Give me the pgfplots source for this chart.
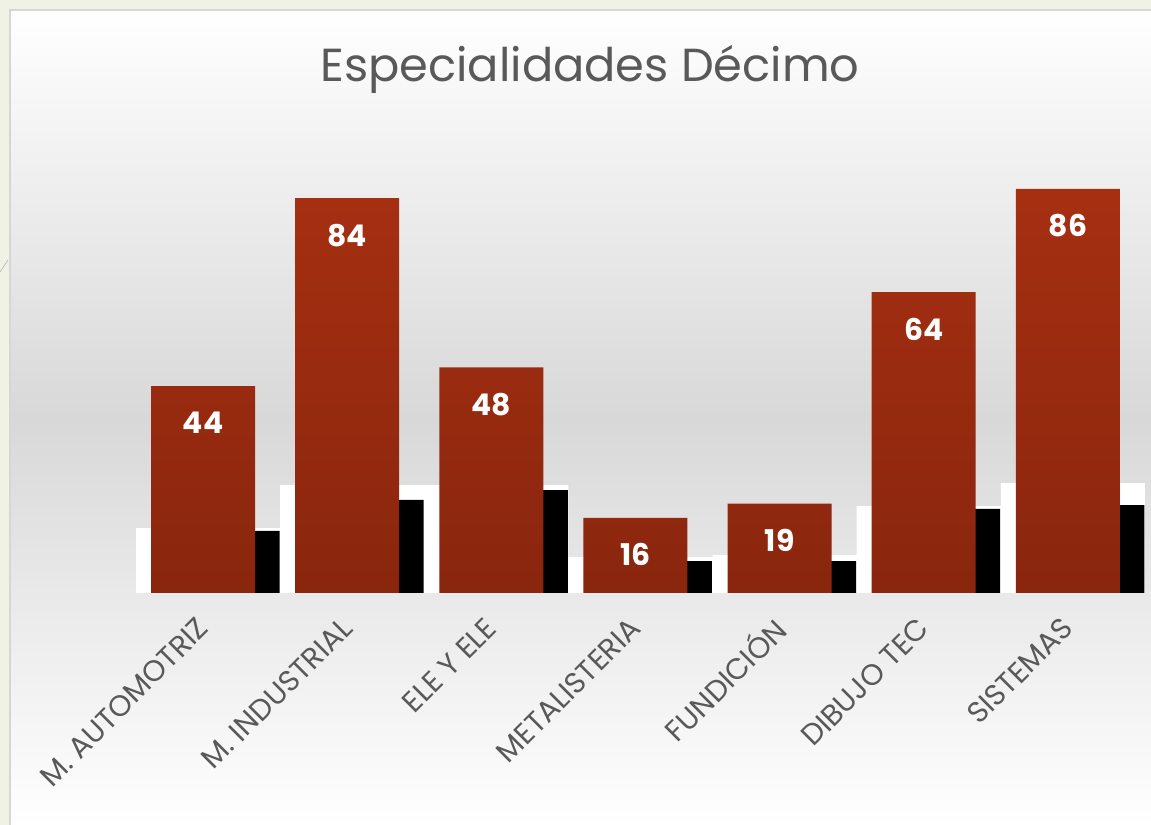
\documentclass[border=0pt]{standalone}
\usepackage{pgfplots}
\pgfplotsset{compat=1.18}
\usepackage{fontspec}
\setmainfont{Poppins}
\definecolor{outerbg}{RGB}{239,242,229}
\definecolor{panelborder}{RGB}{214,214,214}
\definecolor{midgray}{RGB}{216,216,216}
\definecolor{bartop}{RGB}{166,47,17}
\definecolor{barbot}{RGB}{137,38,14}
\definecolor{labgray}{RGB}{89,89,89}
\begin{document}
\begin{tikzpicture}[x=1bp,y=1bp]
\useasboundingbox (0,0) rectangle (1151,825);
\fill[outerbg] (0,0) rectangle (1151,825);
\shade[top color=white, bottom color=white, middle color=midgray] (10,0) rectangle (1151,815);
\draw[panelborder, line width=1.5bp] (10,-2) -- (10,815) -- (1153,815);
\draw[gray!60, line width=0.6bp] (0,553) -- (8,565);
\node[anchor=base, text=labgray, font=\fontsize{46.5}{46.5}\selectfont] at (590,743) {Especialidades Décimo};
\begin{axis}[
  at={(131bp,232bp)}, anchor=south west,
  scale only axis, width=1009bp, height=470bp,
  xmin=-0.5, xmax=6.5, ymin=0, ymax=100,
  axis line style={draw=none},
  ytick=\empty,
  xtick={0,1,2,3,4,5,6},
  major tick length=0pt,
  xticklabels={M. AUTOMOTRIZ, M. INDUSTRIAL, ELE Y ELE, METALISTERIA, FUNDICIÓN, DIBUJO TEC, SISTEMAS},
  xticklabel style={yshift=-30bp, rotate=45, anchor=east, text=labgray, font=\fontsize{29.5}{29.5}\selectfont, inner sep=0bp},
  clip=false,
]
% rendering artefacts of the original (white and black shadow blocks)
\addplot[ybar, bar width=144bp, bar shift=5bp, fill=white, draw=none]
  coordinates {(0,13.8) (1,23.0) (2,23.0) (3,7.7) (4,8.1) (5,18.5) (6,23.4)};
\addplot[ybar, bar width=25bp, bar shift=64bp, fill=black, draw=none]
  coordinates {(0,13.2) (1,19.8) (2,21.9) (3,6.8) (4,6.8) (5,17.9) (6,18.7)};
% main data
\addplot[ybar, bar width=104bp, bar shift=0bp, draw=none, top color=bartop, bottom color=barbot,
  nodes near coords={\pgfmathprintnumber[assume math mode=true]{\pgfplotspointmeta}},
  every node near coord/.append style={anchor=center, yshift=-37bp, text=white, font=\fontsize{30}{30}\selectfont\bfseries}]
  coordinates {(0,44) (1,84) (2,48) (3,16) (4,19) (5,64) (6,86)};
\end{axis}
\end{tikzpicture}
\end{document}
